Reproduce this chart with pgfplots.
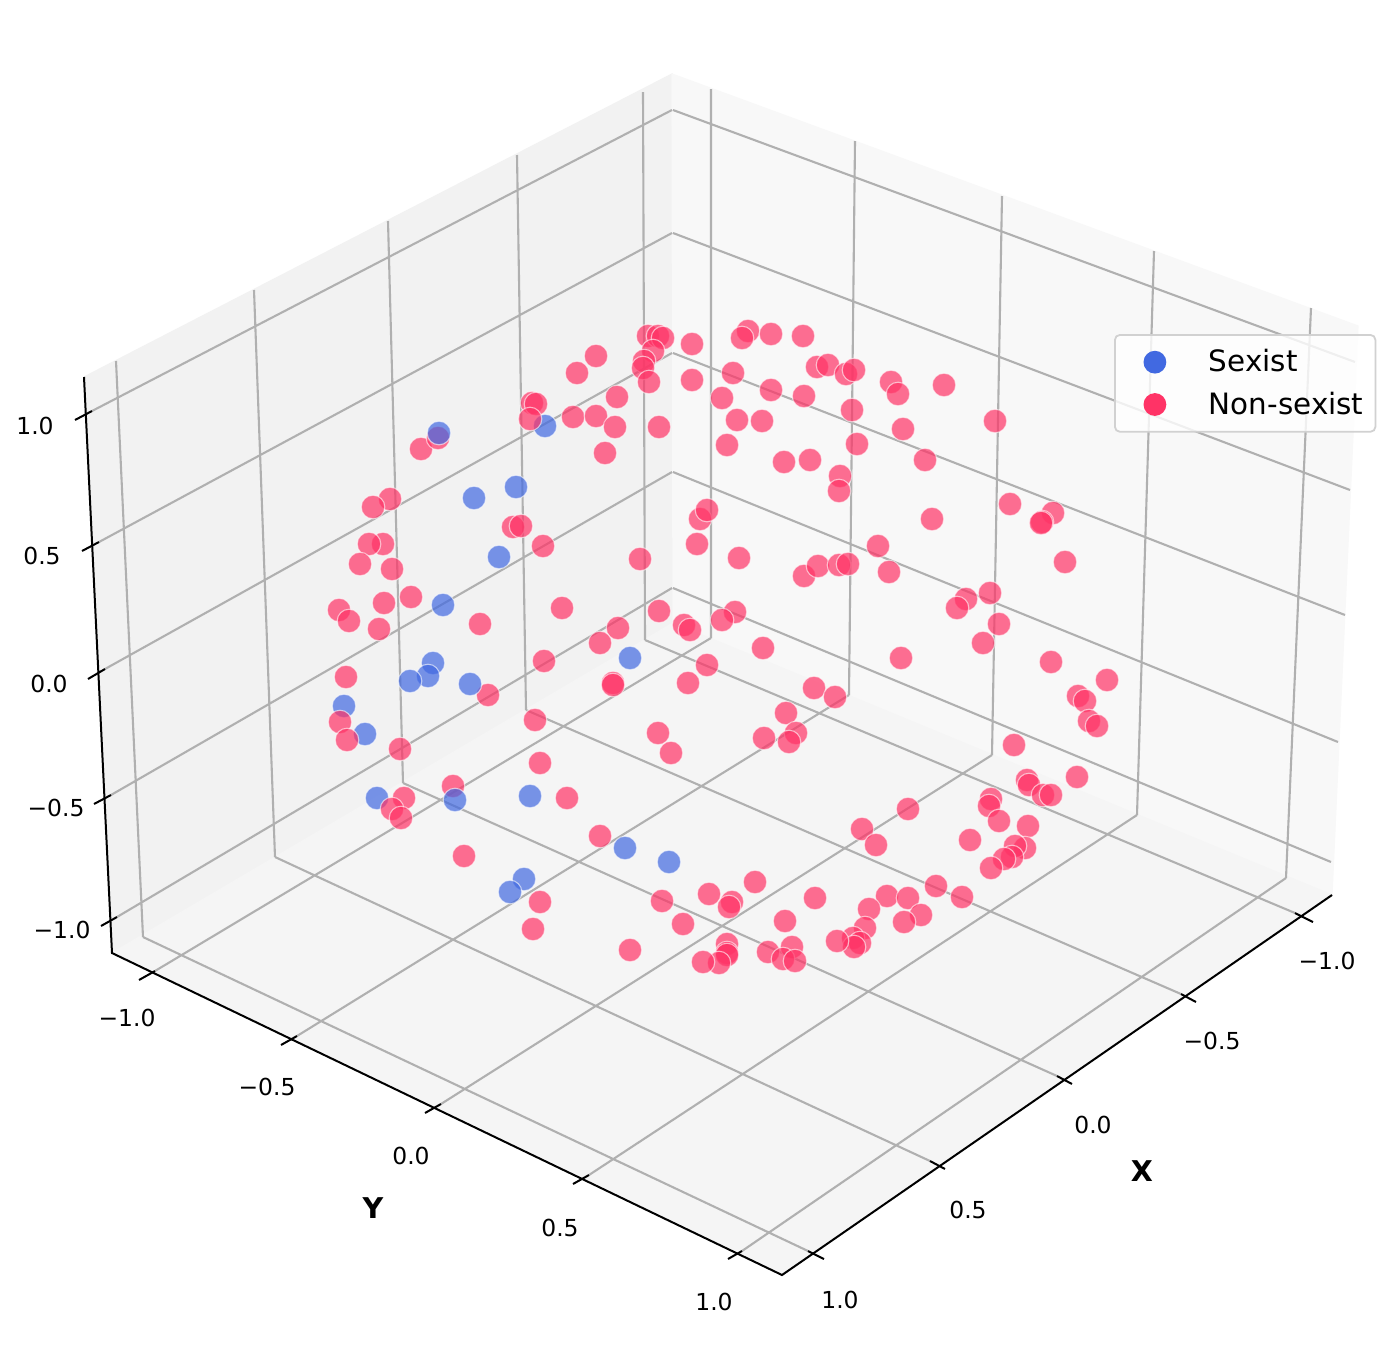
\documentclass[border=0pt]{standalone}
\usepackage{fontspec}
\setmainfont{DejaVu Sans}
\usepackage{pgfplots}
\pgfplotsset{compat=1.18}

\definecolor{sexist}{HTML}{4169E1}
\definecolor{nonsexist}{HTML}{FF3366}
\definecolor{gridc}{HTML}{B0B0B0}
\definecolor{paneL}{HTML}{F2F2F2}
\definecolor{paneR}{HTML}{F8F8F8}
\definecolor{paneF}{HTML}{F5F5F5}

% picture coordinates: 1 unit = 1 px of the reference, y downwards
\pgfplotsset{
  gridl/.style={gridc, line width=1.05pt, forget plot, unbounded coords=jump},
  spine/.style={black, line width=1pt, forget plot, unbounded coords=jump},
  pane/.style={draw=#1, line width=0.6pt, fill=#1, forget plot},
  dots/.style={only marks, mark=*, mark size=5.9pt,
    mark options={draw=white, fill=#1, line width=0.55pt, draw opacity=0.6, fill opacity=0.7},
    legend image code/.code={
      \path[draw=none, fill=none] (0pt,-5pt) rectangle (41pt,5pt);
      \path[draw=none, fill=#1, fill opacity=1] (16pt,0pt) circle (5.7pt);}},
}
\newcommand{\tl}[2]{\node[font=\fontsize{11.7}{14}\selectfont] at (axis cs:#1) {#2};}

\begin{document}
\begin{tikzpicture}
\begin{axis}[
  scale only axis, width=699.5pt, height=678pt,
  xmin=0, xmax=1399, ymin=0, ymax=1356, y dir=reverse,
  axis lines=none, ticks=none, clip=false,
  legend style={at={(axis cs:1114,334)}, anchor=north west,
    draw=black!18, line width=0.9pt, rounded corners=2.5pt,
    fill=white, fill opacity=0.8, text opacity=1,
    font=\fontsize{14.7}{17}\selectfont,
    inner xsep=4pt, inner ysep=5.3pt, row sep=4.5pt},
  legend cell align=left,
]
% page and panes
\addplot[draw=none, fill=white, forget plot] coordinates {(0,0) (1399,0) (1399,1356) (0,1356)} --cycle;
\addplot[pane=paneL] coordinates {(84,377) (672,74) (673,623) (112,953)} --cycle;
\addplot[pane=paneR] coordinates {(672,74) (1358,326) (1332,895) (673,623)} --cycle;
\addplot[pane=paneF] coordinates {(112,953) (673,623) (1332,895) (782,1275)} --cycle;

% grid
\addplot[gridl] coordinates {
 (116,361) (143,937) (nan,nan) (254,290) (275,857) (nan,nan) (388,221) (403,783) (nan,nan)
 (517,155) (526,710) (nan,nan) (643,92) (645,640) (nan,nan)
 (92,411) (672,110) (nan,nan) (99,542) (672,233) (nan,nan) (105,669) (672,353) (nan,nan)
 (111,795) (672,472) (nan,nan) (117,917) (672,588)};
\addplot[gridl] coordinates {
 (711,89) (711,638) (nan,nan) (855,141) (849,695) (nan,nan) (1002,196) (992,755) (nan,nan)
 (1154,251) (1137,815) (nan,nan) (1311,308) (1286,878) (nan,nan)
 (673,110) (1355,362) (nan,nan) (673,233) (1350,490) (nan,nan) (673,353) (1345,615) (nan,nan)
 (673,472) (1338,742) (nan,nan) (673,588) (1331,862)};
\addplot[gridl] coordinates {
 (645,640) (1295,913) (nan,nan) (526,710) (1181,994) (nan,nan) (403,783) (1057,1076) (nan,nan)
 (275,857) (930,1161) (nan,nan) (143,937) (808,1251) (nan,nan)
 (155,971) (711,638) (nan,nan) (297,1036) (849,695) (nan,nan) (441,1104) (992,755) (nan,nan)
 (589,1175) (1137,815) (nan,nan) (742,1251) (1286,878)};

% spines and ticks
\addplot[spine] coordinates {(84,377) (112,953) (782,1275) (1332,895)};
\addplot[spine] coordinates {
 (75,420) (92,411) (nan,nan) (82,551) (99,542) (nan,nan) (88,679) (105,669) (nan,nan)
 (94,804) (111,795) (nan,nan) (101,926) (117,917) (nan,nan)
 (139,980) (155,971) (nan,nan) (281,1045) (297,1036) (nan,nan) (425,1113) (441,1104) (nan,nan)
 (573,1184) (589,1175) (nan,nan) (728,1259) (742,1251) (nan,nan)
 (824,1259) (808,1251) (nan,nan) (945,1169) (930,1161) (nan,nan) (1072,1084) (1057,1076) (nan,nan)
 (1196,1002) (1181,994) (nan,nan) (1313,922) (1295,913)};

% sexist, behind the others
\addplot[dots=sexist] table {
x y
545 426
516 487
474 498
499 557
443 605
433 663
428 676
410 681
630 658
344 706
365 734
377 798
530 796
625 848
669 862
524 879
510 892
};
\addlegendentry{Sexist}

\addplot[dots=nonsexist] table {
x y
648 336
658 336
663 338
653 351
644 361
643 368
649 382
692 344
692 380
596 356
577 373
532 403
536 404
530 419
617 397
573 417
596 416
615 427
659 427
605 453
421 449
438 438
390 499
373 507
513 527
521 526
383 544
369 544
360 564
392 569
543 546
640 559
697 544
700 519
707 510
411 597
384 603
339 610
349 621
379 629
480 624
562 608
659 611
618 628
600 643
684 625
690 630
748 331
742 338
771 334
803 336
817 367
828 365
846 374
854 370
733 373
771 390
722 398
804 396
891 382
898 394
944 385
852 410
737 420
762 421
903 429
995 421
857 444
727 445
925 460
784 462
810 460
840 476
839 491
932 519
1010 504
1053 513
1042 522
1041 523
1065 562
739 558
878 546
889 572
804 576
818 566
839 565
848 564
966 599
957 608
990 593
999 624
735 612
722 620
983 643
763 648
707 665
901 658
1051 662
1107 680
1078 696
1085 701
1089 721
1097 726
814 688
835 697
786 713
796 733
789 742
764 738
1014 745
1077 777
1027 780
1029 785
1043 795
1051 795
991 799
989 806
999 821
1028 826
970 840
1025 848
1015 846
1012 857
1004 859
991 868
908 809
862 829
876 845
936 886
962 897
887 896
908 898
869 909
921 915
904 922
815 898
755 882
709 894
732 902
729 907
785 921
865 928
853 938
860 943
854 947
837 941
792 947
768 952
783 959
795 961
727 944
727 953
727 955
719 963
703 962
346 677
340 722
347 740
488 695
544 661
613 683
613 685
535 720
658 733
671 753
688 683
400 749
540 763
567 798
453 786
404 798
392 809
401 818
600 836
464 856
540 902
533 929
662 901
683 924
630 950
};
\addlegendentry{Non-sexist}

% sexist points that lie in front of the red ones
\addplot[dots=sexist, forget plot] table {
x y
439 433
470 684
455 800
};

\tl{35,426}{1.0} \tl{42,556}{0.5} \tl{49,684}{0.0} \tl{56,808}{−0.5} \tl{62,930}{−1.0}
\tl{127,1018}{−1.0} \tl{267,1087}{−0.5} \tl{411,1156}{0.0} \tl{560,1228}{0.5} \tl{714,1302}{1.0}
\tl{1327,961}{−1.0} \tl{1212,1041}{−0.5} \tl{1093,1125}{0.0} \tl{968,1210}{0.5} \tl{840,1300}{1.0}
\node[font=\fontsize{14.3}{17}\selectfont\bfseries] at (axis cs:1142,1171) {X};
\node[font=\fontsize{14.3}{17}\selectfont\bfseries] at (axis cs:373,1208) {Y};
\end{axis}
\end{tikzpicture}
\end{document}
